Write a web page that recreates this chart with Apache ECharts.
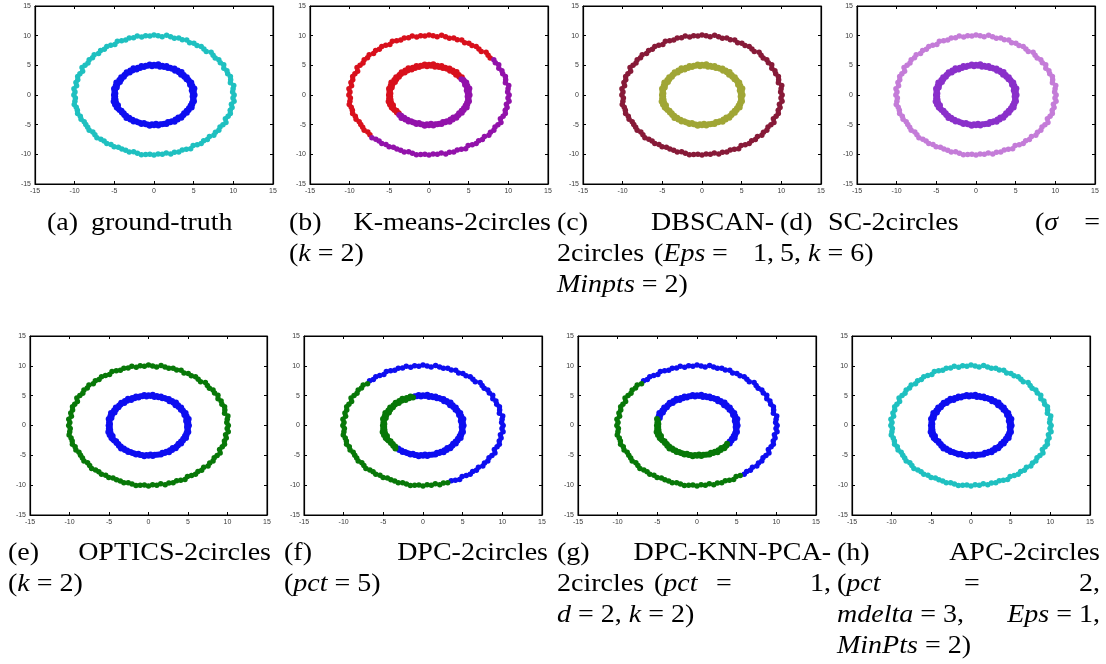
<!DOCTYPE html>
<html>
<head>
<meta charset="utf-8">
<script src="https://cdn.jsdelivr.net/npm/echarts@6/dist/echarts.min.js"></script>
<style>
  html, body { margin: 0; padding: 0; background: #fff; }
  #chart { width: 1106px; height: 664px; }
</style>
</head>
<body>
<div id="chart"></div>
<script>
// Two noisy concentric rings (radius ~10 and ~5), points ordered counter-clockwise from angle 0.
const outerRing = [
  [10.10,0.00],[9.91,0.52],[9.97,1.05],[10.05,1.59],[9.63,2.05],[9.66,2.59],[9.63,3.13],[9.29,3.57],[9.19,4.09],[8.80,4.49],
  [8.79,5.08],[8.36,5.43],[8.17,5.94],[7.71,6.24],[7.45,6.71],[7.20,7.20],[6.59,7.32],[6.29,7.77],[5.95,8.19],[5.42,8.35],
  [5.03,8.71],[4.49,8.80],[4.13,9.27],[3.57,9.31],[3.12,9.61],[2.57,9.58],[2.09,9.81],[1.59,10.05],[1.03,9.80],[0.52,9.99],
  [0.00,10.12],[-0.52,9.94],[-1.05,10.00],[-1.55,9.76],[-2.11,9.93],[-2.58,9.63],[-3.12,9.61],[-3.56,9.26],[-4.08,9.16],[-4.62,9.07],
  [-4.93,8.53],[-5.45,8.39],[-5.95,8.19],[-6.26,7.73],[-6.73,7.48],[-6.99,6.99],[-7.54,6.79],[-7.75,6.27],[-8.17,5.94],[-8.32,5.40],
  [-8.69,5.02],[-9.07,4.62],[-9.00,4.01],[-9.34,3.58],[-9.62,3.13],[-9.61,2.58],[-9.84,2.09],[-9.76,1.55],[-10.09,1.06],[-9.96,0.52],
  [-10.10,0.00],[-9.91,-0.52],[-9.97,-1.05],[-10.05,-1.59],[-9.80,-2.08],[-9.66,-2.59],[-9.63,-3.13],[-9.29,-3.57],[-9.19,-4.09],[-8.80,-4.49],
  [-8.60,-4.97],[-8.36,-5.43],[-8.17,-5.94],[-7.71,-6.24],[-7.45,-6.71],[-7.20,-7.20],[-6.70,-7.45],[-6.29,-7.77],[-5.95,-8.19],[-5.42,-8.35],
  [-5.03,-8.71],[-4.49,-8.80],[-4.05,-9.10],[-3.57,-9.31],[-3.12,-9.61],[-2.57,-9.58],[-2.09,-9.81],[-1.59,-10.05],[-1.05,-10.02],[-0.52,-9.99],
  [0.00,-10.12],[0.52,-9.94],[1.05,-10.00],[1.55,-9.76],[2.11,-9.93],[2.58,-9.63],[3.12,-9.61],[3.56,-9.26],[4.08,-9.16],[4.62,-9.07],
  [4.93,-8.53],[5.45,-8.39],[5.95,-8.19],[6.26,-7.73],[6.73,-7.48],[6.99,-6.99],[7.54,-6.79],[7.75,-6.27],[8.17,-5.94],[8.32,-5.40],
  [8.69,-5.02],[9.07,-4.62],[9.00,-4.01],[9.34,-3.58],[9.62,-3.13],[9.61,-2.58],[9.84,-2.09],[9.76,-1.55],[10.09,-1.06],[9.96,-0.52]
];
const innerRing = [
  [5.12,0.00],[4.89,0.26],[5.02,0.53],[4.76,0.75],[5.09,1.08],[4.78,1.28],[4.83,1.57],[4.54,1.74],[4.70,2.09],[4.44,2.26],
  [4.35,2.51],[4.09,2.66],[4.14,3.01],[3.81,3.08],[3.75,3.38],[3.41,3.41],[3.48,3.86],[3.12,3.85],[2.99,4.11],[2.65,4.08],
  [2.58,4.46],[2.26,4.44],[2.04,4.59],[1.75,4.56],[1.58,4.87],[1.27,4.73],[1.05,4.94],[0.75,4.76],[0.54,5.17],[0.26,4.94],
  [0.00,5.08],[-0.25,4.85],[-0.54,5.12],[-0.78,4.92],[-1.04,4.91],[-1.26,4.71],[-1.58,4.87],[-1.76,4.57],[-2.05,4.61],[-2.19,4.29],
  [-2.60,4.50],[-2.70,4.15],[-2.99,4.11],[-3.06,3.78],[-3.45,3.83],[-3.52,3.52],[-3.73,3.36],[-3.79,3.07],[-4.14,3.01],[-4.11,2.67],
  [-4.37,2.53],[-4.29,2.19],[-4.75,2.11],[-4.62,1.77],[-4.83,1.57],[-4.69,1.26],[-5.04,1.07],[-4.92,0.78],[-4.99,0.52],[-4.87,0.26],
  [-5.05,-0.02],[-4.89,-0.26],[-5.02,-0.53],[-4.85,-0.77],[-5.09,-1.08],[-4.78,-1.28],[-4.92,-1.60],[-4.54,-1.74],[-4.70,-2.09],[-4.50,-2.29],
  [-4.35,-2.51],[-4.09,-2.66],[-4.05,-2.94],[-3.81,-3.08],[-3.75,-3.38],[-3.50,-3.50],[-3.48,-3.86],[-3.12,-3.85],[-2.99,-4.11],[-2.70,-4.17],
  [-2.58,-4.46],[-2.26,-4.44],[-2.04,-4.59],[-1.79,-4.68],[-1.58,-4.87],[-1.27,-4.73],[-1.05,-4.94],[-0.78,-4.96],[-0.54,-5.17],[-0.26,-4.94],
  [0.00,-5.08],[0.25,-4.85],[0.54,-5.12],[0.78,-4.92],[1.04,-4.91],[1.30,-4.86],[1.58,-4.87],[1.76,-4.57],[2.05,-4.61],[2.25,-4.42],
  [2.60,-4.50],[2.70,-4.15],[2.99,-4.11],[3.06,-3.78],[3.45,-3.83],[3.52,-3.52],[3.73,-3.36],[3.79,-3.07],[4.14,-3.01],[4.11,-2.67],
  [4.37,-2.53],[4.40,-2.24],[4.75,-2.11],[4.62,-1.77],[4.83,-1.57],[4.80,-1.29],[5.04,-1.07],[4.92,-0.78],[4.99,-0.52],[4.87,-0.26]
];

// Axis ticks shared by every panel
const tickValues = [-15, -10, -5, 0, 5, 10, 15];

// Panel order (a)..(h)
const panelKeys = ['a', 'b', 'c', 'd', 'e', 'f', 'g', 'h'];

// Index ranges [from, to] (wrapping) of ring points assigned to the second cluster
const outerSecondCluster = { b: [75, 12], f: [45, 96], g: [45, 101] };
const innerSecondCluster = { b: [74, 11], f: [35, 76], g: [56, 107] };

// Cluster colours per panel: [first cluster, second cluster]
const outerColors = {
  a: ['#1fc0c0'], b: ['#d8101c', '#9212aa'], c: ['#871a38'], d: ['#c47cd8'],
  e: ['#087808'], f: ['#0e0ef0', '#087808'], g: ['#0e0ef0', '#087808'], h: ['#1fc0c0']
};
const innerColors = {
  a: ['#0e0ef0'], b: ['#d8101c', '#9212aa'], c: ['#a0a636'], d: ['#8a30ca'],
  e: ['#0e0ef0'], f: ['#0e0ef0', '#087808'], g: ['#0e0ef0', '#087808'], h: ['#0e0ef0']
};

// Sub-figure captions: each line is a list of [x, align, text] words
const captionFont = 'Liberation Serif';
const captions = [
  { y: 223, words: [[47, 'left', '(a)'], [91, 'left', 'ground-truth']] },
  { y: 223, words: [[289, 'left', '(b)'], [551, 'right', 'K-means-2circles']] },
  { y: 254, words: [[289, 'left', '({i|k} = 2)']] },
  { y: 223, words: [[557, 'left', '(c)'], [774, 'right', 'DBSCAN-']] },
  { y: 254, words: [[557, 'left', '2circles'], [654, 'left', '({i|Eps}'], [712, 'left', '='], [774, 'right', '1,']] },
  { y: 285, words: [[557, 'left', '{i|Minpts} = 2)']] },
  { y: 223, words: [[780, 'left', '(d)'], [828, 'left', 'SC-2circles'], [1035, 'left', '({i|σ}'], [1100, 'right', '=']] },
  { y: 254, words: [[780, 'left', '5, {i|k} = 6)']] },
  { y: 553, words: [[8, 'left', '(e)'], [271, 'right', 'OPTICS-2circles']] },
  { y: 584, words: [[8, 'left', '({i|k} = 2)']] },
  { y: 553, words: [[284, 'left', '(f)'], [548, 'right', 'DPC-2circles']] },
  { y: 584, words: [[284, 'left', '({i|pct} = 5)']] },
  { y: 553, words: [[557, 'left', '(g)'], [831, 'right', 'DPC-KNN-PCA-']] },
  { y: 584, words: [[557, 'left', '2circles'], [654, 'left', '({i|pct}'], [716, 'left', '='], [831, 'right', '1,']] },
  { y: 615, words: [[557, 'left', '{i|d} = 2, {i|k} = 2)']] },
  { y: 553, words: [[837, 'left', '(h)'], [1100, 'right', 'APC-2circles']] },
  { y: 584, words: [[837, 'left', '({i|pct}'], [964, 'left', '='], [1100, 'right', '2,']] },
  { y: 615, words: [[837, 'left', '{i|mdelta} = 3,'], [1100, 'right', '{i|Eps} = 1,']] },
  { y: 646, words: [[837, 'left', '{i|MinPts} = 2)']] }
];

// Plot boxes in pixels: [left, top, width, height]
const boxes = [
  [35, 6, 238, 178], [310, 6, 238, 178], [583, 6, 238, 178], [857, 6, 238, 178],
  [30, 336, 237, 179], [304, 336, 238, 179], [578, 336, 238, 179], [852, 336, 238, 179]
];

function inRange(i, r) {
  if (!r) return false;
  return r[0] <= r[1] ? (i >= r[0] && i <= r[1]) : (i >= r[0] || i <= r[1]);
}

const grids = [], xAxes = [], yAxes = [], series = [];
const tickMin = tickValues[0], tickMax = tickValues[tickValues.length - 1];
const tickStep = tickValues[1] - tickValues[0];

function axisBase(k, pos, labels) {
  return {
    type: 'value', gridIndex: k, position: pos,
    min: tickMin, max: tickMax, interval: tickStep,
    axisLine: { show: true, onZero: false, lineStyle: { color: '#000', width: 1.2 } },
    axisTick: { show: true, inside: true, length: 3, lineStyle: { color: '#000', width: 1 } },
    axisLabel: {
      show: labels, fontSize: 7, color: '#3a3a3a', margin: 4,
      fontFamily: 'Liberation Sans', showMinLabel: true, showMaxLabel: true
    },
    splitLine: { show: false }
  };
}

panelKeys.forEach((key, k) => {
  const b = boxes[k];
  grids.push({ left: b[0], top: b[1], width: b[2], height: b[3], containLabel: false,
               show: true, borderColor: '#000', borderWidth: 1, backgroundColor: '#fff' });
  xAxes.push(axisBase(k, 'bottom', true), axisBase(k, 'top', false));
  yAxes.push(axisBase(k, 'left', true), axisBase(k, 'right', false));

  [[outerRing, outerColors[key], outerSecondCluster[key], 5.5],
   [innerRing, innerColors[key], innerSecondCluster[key], 6]].forEach(([ring, cols, range, size]) => {
    const groups = cols.map(() => []);
    ring.forEach((p, i) => {
      groups[inRange(i, range) && cols.length > 1 ? 1 : 0].push(p);
    });
    groups.forEach((pts, g) => {
      series.push({
        type: 'scatter', xAxisIndex: 2 * k, yAxisIndex: 2 * k,
        data: pts, symbol: 'circle', symbolSize: size,
        itemStyle: { color: cols[g], opacity: 1 },
        silent: true, animation: false
      });
    });
  });
});

const graphic = [];
captions.forEach(line => {
  line.words.forEach(([x, align, text]) => {
    graphic.push({
      type: 'text', x: x, y: line.y, scaleX: 1.12, silent: true,
      style: {
        text: text, fill: '#000', fontSize: 25, fontFamily: captionFont,
        align: align, verticalAlign: 'middle',
        rich: { i: { fontStyle: 'italic', fontSize: 25, fontFamily: captionFont, fill: '#000' } }
      }
    });
  });
});

const chart = echarts.init(document.getElementById('chart'), null, { renderer: 'canvas' });
chart.setOption({
  backgroundColor: '#fff',
  animation: false,
  grid: grids,
  xAxis: xAxes,
  yAxis: yAxes,
  series: series,
  graphic: graphic
});
</script>
</body>
</html>
